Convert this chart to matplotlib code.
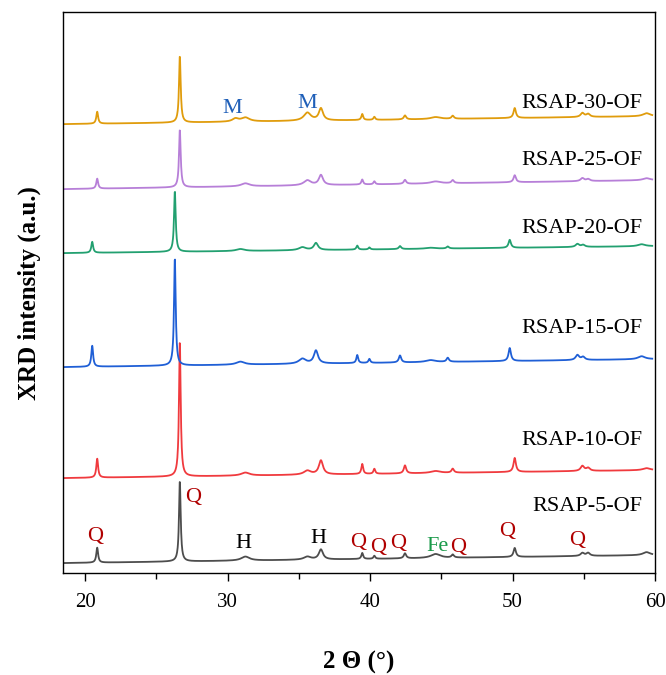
import numpy as np
import matplotlib
matplotlib.use("Agg")
import matplotlib.pyplot as plt
from matplotlib.ticker import MultipleLocator

plt.rcParams['font.family'] = ['Liberation Serif', 'DejaVu Serif']

# peak positions (2 theta, deg)
pos_std = [20.85, 26.65, 30.55, 31.25, 35.6, 36.55, 39.45, 40.3, 42.45, 44.6, 45.8, 50.15, 54.9, 55.3, 59.4]
pos_shift = [20.5, 26.3, 30.2, 30.9, 35.25, 36.2, 39.1, 39.95, 42.1, 44.25, 45.45, 49.8, 54.55, 54.95, 59.05]
widths = [0.15, 0.14, 0.5, 0.7, 0.6, 0.35, 0.15, 0.15, 0.2, 0.8, 0.2, 0.2, 0.3, 0.3, 0.6]

# samples, bottom to top
samples = ['RSAP-5-OF', 'RSAP-10-OF', 'RSAP-15-OF', 'RSAP-20-OF', 'RSAP-25-OF', 'RSAP-30-OF']
colors = ['#4d4d4d', '#f03a3e', '#1f5fd6', '#22a070', '#b77fd8', '#e09c0c']
shifted = [False, False, True, True, False, False]

# peak heights above baseline (a.u.)
h5 = [15, 81, 0, 4, 3, 10, 6, 3, 5, 4, 3, 9, 3, 3, 3]
h10 = [19, 136, 0, 3, 4, 14, 10, 5, 8, 2, 4, 14, 5, 3, 2]
h15 = [21, 108, 0, 3, 5, 13, 8, 4, 7, 2, 4, 13, 5, 3, 3]
h20 = [11, 61, 0, 2, 3, 7, 4, 2, 3, 1, 2, 8, 3, 2, 2]
h25 = [10, 58, 0, 3, 5, 10, 5, 3, 4, 2, 3, 7, 3, 2, 2]
h30 = [12, 67, 3, 4, 8, 12, 6, 3, 4, 2, 3, 10, 4, 3, 3]
heights = [h5, h10, h15, h20, h25, h30]

# baseline at left / right end (stack offset)
base_left = [10, 95, 206, 320, 384, 449]
base_right = [18, 103, 214, 327, 393, 457]

# phase labels on the bottom trace: (x, y, text, colour)
ann_x = [20.7, 27.6, 31.1, 36.4, 39.15, 40.56, 42.0, 44.7, 46.2, 49.6, 54.5]
ann_y = [37, 76, 30, 35, 31, 26, 30, 27, 26, 42, 33]
ann_t = ['Q', 'Q', 'H', 'H', 'Q', 'Q', 'Q', 'Fe', 'Q', 'Q', 'Q']
ann_c = ['#b00000', '#b00000', 'black', 'black', '#b00000', '#b00000', '#b00000',
         '#1a9a4a', '#b00000', '#b00000', '#b00000']
m_x = [30.3, 35.6]
m_y = [465, 470]

x = np.linspace(18.5, 59.8, 2000)

fig = plt.figure(figsize=(6.66, 6.75), dpi=100)
ax = fig.add_axes([0.0946, 0.151, 0.889, 0.831])

for i, name in enumerate(samples):
    pos = pos_shift if shifted[i] else pos_std
    y = base_left[i] + (base_right[i] - base_left[i]) * (x - x[0]) / (x[-1] - x[0])
    for p, h, w in zip(pos, heights[i], widths):
        y = y + h / (1 + ((x - p) / (w / 2)) ** 2)
    ax.plot(x, y, color=colors[i], lw=1.3)

label_y = [67, 133, 245, 345, 413, 470]
for i, name in enumerate(samples):
    ax.text(59.1, label_y[i], name, ha='right', va='center', fontsize=16)

for xx, yy, t, c in zip(ann_x, ann_y, ann_t, ann_c):
    ax.text(xx, yy, t, ha='center', va='center', fontsize=16, color=c)
for xx, yy in zip(m_x, m_y):
    ax.text(xx, yy, 'M', ha='center', va='center', fontsize=16, color='#1f5fb8')

ax.set_xlim(18.45, 60)
ax.set_ylim(0, 561)
ax.set_yticks([])
ax.xaxis.set_major_locator(MultipleLocator(10))
ax.xaxis.set_minor_locator(MultipleLocator(5))
ax.tick_params(axis='x', which='major', direction='out', length=6, width=1, labelsize=15, pad=8)
ax.tick_params(axis='x', which='minor', direction='out', length=4, width=1)
for s in ax.spines.values():
    s.set_linewidth(1.0)

ax.set_xlabel('2 \u0398 (\u00b0)', fontsize=18, fontweight='bold', labelpad=28)
ax.set_ylabel('XRD intensity (a.u.)', fontsize=18, fontweight='bold', labelpad=16)

fig.savefig('out.png', dpi=100)
